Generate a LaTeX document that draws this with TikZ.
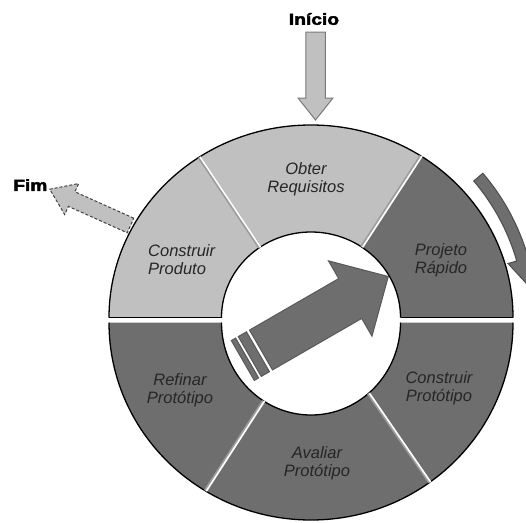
\documentclass[tikz,border=0pt]{standalone}
\usepackage{fontspec}
\setmainfont{Liberation Sans}
\newfontfamily\heavyfont[BoldFeatures={FakeBold=2.5}]{Liberation Sans}
\definecolor{lightseg}{HTML}{C0C0C0}
\definecolor{darkseg}{HTML}{6E6E6E}
\definecolor{bevel}{HTML}{9C9C9C}
\definecolor{arrowedge}{HTML}{7A7A7A}
\begin{document}
\begin{tikzpicture}[x=1pt,y=1pt,
  ringline/.style={black, line width=1.3pt},
  sepbevel/.style={bevel, line width=3.4pt},
  sepwhite/.style={white, line width=1.6pt},
  phase/.style={font=\fontsize{16.5}{18}\selectfont\itshape, text=black!85, align=center, inner sep=0pt},
  endlabel/.style={font=\fontsize{16}{16}\selectfont\heavyfont\bfseries, inner sep=0pt, xscale=1.2},
  blockarrow/.style={line width=1pt, line join=miter}]
\useasboundingbox (0,0) rectangle (526,-522);
\clip (0,0) rectangle (526,-522);

% ---- exit arrow (drawn below the ring) ----
\begin{scope}[shift={(130.5,-225.5)}, rotate=155.8]
  \filldraw[blockarrow, fill=lightseg, draw=black!75, densely dashed]
    (0,-8) -- (64.5,-8) -- (64.5,-17) -- (88.5,0) -- (64.5,17) -- (64.5,8) -- (0,8) -- cycle;
\end{scope}

% ---- top half of the ring ----
\begin{scope}[shift={(311,-317.5)}]
  % Projeto Rapido
  \fill[darkseg] (0:202 and 192.5) arc[start angle=0, end angle=57, x radius=202, y radius=192.5]
    -- (55.5:89.5 and 85.5) arc[start angle=55.5, end angle=0, x radius=89.5, y radius=85.5] -- cycle;
  % Obter Requisitos
  \fill[lightseg] (57:202 and 192.5) arc[start angle=57, end angle=123.6, x radius=202, y radius=192.5]
    -- (125:89.5 and 85.5) arc[start angle=125, end angle=55.5, x radius=89.5, y radius=85.5] -- cycle;
  % Construir Produto
  \fill[lightseg] (123.6:202 and 192.5) arc[start angle=123.6, end angle=180, x radius=202, y radius=192.5]
    -- (180:89.5 and 85.5) arc[start angle=180, end angle=125, x radius=89.5, y radius=85.5] -- cycle;
  % outlines
  \draw[ringline] (180:202 and 192.5) arc[start angle=180, end angle=0, x radius=202, y radius=192.5];
  \draw[ringline] (180:89.5 and 85.5) arc[start angle=180, end angle=0, x radius=89.5, y radius=85.5];
  \draw[ringline] (-202,0) -- (-89.5,0);
  \draw[ringline] (89.5,0) -- (202,0);
  % separators
  \draw[sepbevel] (57:202 and 192.5) -- (55.5:89.5 and 85.5);
  \draw[sepwhite] ([xshift=1pt]57:202 and 192.5) -- ([xshift=1pt]55.5:89.5 and 85.5);
  \draw[sepbevel] (123.6:202 and 192.5) -- (125:89.5 and 85.5);
  \draw[sepwhite] ([xshift=1pt]123.6:202 and 192.5) -- ([xshift=1pt]125:89.5 and 85.5);
\end{scope}

% ---- bottom half of the ring ----
\begin{scope}[shift={(311,-322.5)}]
  % Refinar Prototipo
  \fill[darkseg] (180:202 and 197.5) arc[start angle=180, end angle=238.5, x radius=202, y radius=197.5]
    -- (238:89.5 and 92.5) arc[start angle=238, end angle=180, x radius=89.5, y radius=92.5] -- cycle;
  % Avaliar Prototipo
  \fill[darkseg] (238.5:202 and 197.5) arc[start angle=238.5, end angle=306, x radius=202, y radius=197.5]
    -- (310:89.5 and 92.5) arc[start angle=310, end angle=238, x radius=89.5, y radius=92.5] -- cycle;
  % Construir Prototipo
  \fill[darkseg] (306:202 and 197.5) arc[start angle=306, end angle=360, x radius=202, y radius=197.5]
    -- (360:89.5 and 92.5) arc[start angle=360, end angle=310, x radius=89.5, y radius=92.5] -- cycle;
  % outlines
  \draw[ringline] (180:202 and 197.5) arc[start angle=180, end angle=360, x radius=202, y radius=197.5];
  \draw[ringline] (180:89.5 and 92.5) arc[start angle=180, end angle=360, x radius=89.5, y radius=92.5];
  % separators
  \draw[sepbevel] (238.5:202 and 197.5) -- (238:89.5 and 92.5);
  \draw[sepwhite] ([xshift=1pt]238.5:202 and 197.5) -- ([xshift=1pt]238:89.5 and 92.5);
  \draw[sepbevel] (306:202 and 197.5) -- (310:89.5 and 92.5);
  \draw[sepwhite] ([xshift=1pt]306:202 and 197.5) -- ([xshift=1pt]310:89.5 and 92.5);
\end{scope}

% ---- start arrow ----
\begin{scope}[shift={(315.5,-32)}, rotate=-90]
  \filldraw[blockarrow, fill=lightseg, draw=arrowedge]
    (0,-9.75) -- (66,-9.75) -- (66,-17.5) -- (88,0) -- (66,17.5) -- (66,9.75) -- (0,9.75) -- cycle;
\end{scope}

% ---- curved arrow beside the ring ----
\begin{scope}[shift={(311,-320)}]
  \filldraw[blockarrow, fill=darkseg, draw=black!70]
    (40.5:214) arc[start angle=40.5, end angle=16, radius=214]
    -- (16:205) -- (9:220) -- (16:235) -- (16:226)
    arc[start angle=16, end angle=40.5, radius=226] -- cycle;
\end{scope}

% ---- central iteration arrow ----
\begin{scope}[shift={(261,-350)}, rotate=30]
  \filldraw[blockarrow, fill=darkseg, draw=black!65]
    (0,-23) -- (103,-23) -- (103,-43.5) -- (147,0) -- (103,43.5) -- (103,23) -- (0,23) -- cycle;
  \filldraw[blockarrow, fill=darkseg, draw=black!65] (-13,-23) rectangle (-3.5,23);
  \filldraw[blockarrow, fill=darkseg, draw=black!65] (-21,-23) rectangle (-16,23);
\end{scope}

% ---- labels ----
\node[endlabel] (inicio) at (314,-19) {Início};
\node[endlabel, anchor=west] (fim) at (13,-185) {Fim};

\node[phase] (obter) at (306,-179) {Obter\\Requisitos};
\node[phase, align=left, anchor=west] (cproduto) at (148,-260) {Construir\\Produto};
\node[phase] (projeto) at (441,-260) {Projeto\\Rápido};
\node[phase] (cprototipo) at (439,-388) {Construir\\Protótipo};
\node[phase] (avaliar) at (317,-463) {Avaliar\\Protótipo};
\node[phase] (refinar) at (180,-390) {Refinar\\Protótipo};
\end{tikzpicture}
\end{document}
